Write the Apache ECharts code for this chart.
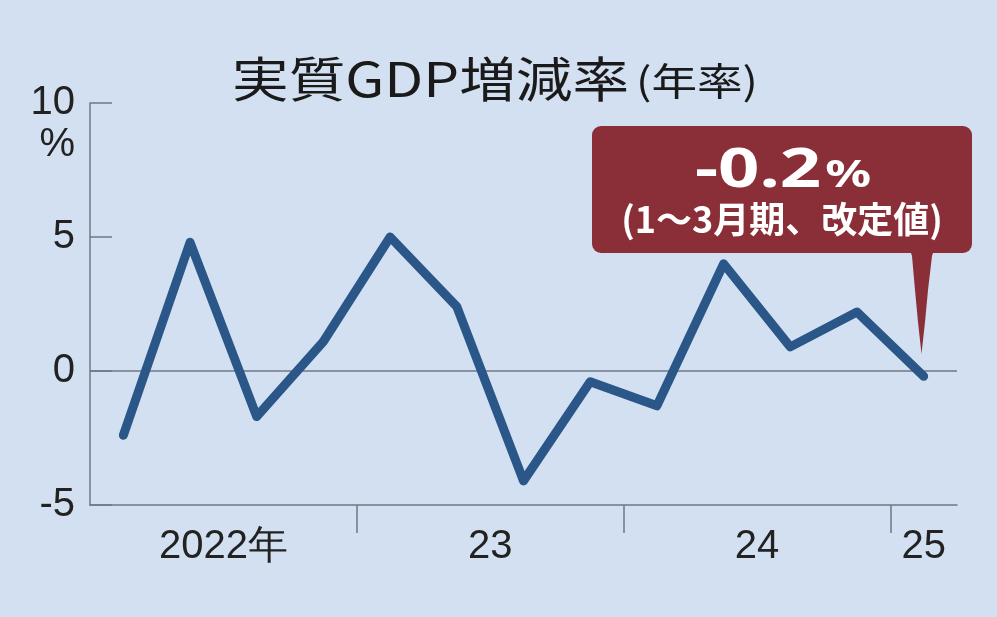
<!DOCTYPE html>
<html>
<head>
<meta charset="utf-8">
<script src="https://cdn.jsdelivr.net/npm/echarts@6/dist/echarts.min.js"></script>
<style>
html,body{margin:0;padding:0;background:#d3e0f1;}
#chart{width:997px;height:617px;}
</style>
</head>
<body>
<div id="chart"></div>
<script>
// ---- data ----
const categories = ['2022Q1','2022Q2','2022Q3','2022Q4','2023Q1','2023Q2','2023Q3','2023Q4','2024Q1','2024Q2','2024Q3','2024Q4','2025Q1'];
const gdpGrowth = [-2.4, 4.8, -1.7, 1.1, 5.0, 2.4, -4.1, -0.4, -1.3, 4.0, 0.9, 2.2, -0.2];
const yearLabels = {'2022':'2022年','2023':'23','2024':'24','2025':'25'};
const yTicks = [-5, 0, 5, 10];
const titleText = '実質GDP増減率';
const titleNote = '(年率)';
const calloutValue = '-0.2';
const calloutNote = '(1〜3月期、改定値)';

// derive year label centres and year boundaries from the categories
const years = [];
categories.forEach((c, i) => {
  const y = c.slice(0, 4);
  let g = years.find(o => o.year === y);
  if (!g) { g = {year: y, first: i, last: i}; years.push(g); }
  g.last = i;
});
const labelPos = years.map(g => (g.first + g.last + 1) / 2);
const boundaryPos = years.slice(1).map(g => g.first);
const posToLabel = {};
years.forEach((g, i) => { posToLabel[labelPos[i]] = yearLabels[g.year]; });

const axisGray = '#6f7885';
const numFont = '"Liberation Sans Narrow","Liberation Sans",sans-serif';
const jpFont = '"Noto Sans CJK JP","Noto Sans",sans-serif';
const calloutRed = '#8a2e37';

const chart = echarts.init(document.getElementById('chart'), null, {renderer: 'canvas'});
chart.setOption({
  backgroundColor: '#d3e0f1',
  animation: false,
  grid: {left: 90, right: 40, top: 103, bottom: 112, containLabel: false},
  xAxis: [
    {type: 'category', data: categories, boundaryGap: true, show: false},
    {
      type: 'value', min: 0, max: categories.length, position: 'bottom',
      axisLine: {show: true, lineStyle: {color: axisGray, width: 1.5}},
      axisTick: {show: true, customValues: boundaryPos, length: 28, lineStyle: {color: axisGray, width: 1.5}},
      axisLabel: {
        show: true, customValues: labelPos, margin: 22,
        formatter: v => posToLabel[v] || '',
        fontFamily: numFont, fontSize: 40, color: '#222'
      },
      splitLine: {show: false}
    }
  ],
  yAxis: {
    type: 'value', min: -5, max: 10, interval: 5,
    axisLine: {show: true, lineStyle: {color: axisGray, width: 1.5}},
    axisTick: {show: true, inside: true, length: 22, lineStyle: {color: axisGray, width: 1.5}},
    axisLabel: {
      margin: 15, fontFamily: numFont, fontSize: 40, color: '#222',
      formatter: v => yTicks.includes(v) ? String(v) : ''
    },
    splitLine: {show: true, lineStyle: {color: ['rgba(0,0,0,0)', axisGray, 'rgba(0,0,0,0)', 'rgba(0,0,0,0)'], width: 1.5}}
  },
  series: [{
    type: 'line',
    xAxisIndex: 0,
    data: gdpGrowth,
    symbol: 'none',
    lineStyle: {color: '#2b5688', width: 9, cap: 'round', join: 'round'},
    z: 3
  }],
  graphic: [
    {
      type: 'text', x: 232, y: 79, scaleX: 1.18,
      style: {text: titleText, fontFamily: jpFont, fontWeight: 'normal', fontSize: 48, fill: '#1a1a1a', textAlign: 'left', textVerticalAlign: 'middle'}
    },
    {
      type: 'text', x: 636, y: 81, scaleX: 1.2,
      style: {text: titleNote, fontFamily: jpFont, fontWeight: 'normal', fontSize: 38, fill: '#1a1a1a', textAlign: 'left', textVerticalAlign: 'middle'}
    },
    {
      type: 'text', x: 75, y: 145,
      style: {text: '%', fontFamily: numFont, fontSize: 40, fill: '#222', textAlign: 'right', textVerticalAlign: 'middle'}
    },
    {
      type: 'polygon',
      shape: {points: [[910,250],[912,256],[915,290],[918,322],[921.5,354],[925,322],[928,290],[932,256],[934,250]]},
      style: {fill: calloutRed}
    },
    {
      type: 'rect',
      shape: {x: 592, y: 126, width: 380, height: 127, r: 9},
      style: {fill: calloutRed}
    },
    {
      type: 'text', x: 783, y: 172, scaleX: 1.34,
      style: {
        text: '{a|' + calloutValue + '}{b|%}',
        textAlign: 'center', textVerticalAlign: 'middle',
        rich: {
          a: {fontFamily: '"Noto Sans",Roboto,sans-serif', fontWeight: 'bold', fontSize: 54, fill: '#ffffff', verticalAlign: 'bottom'},
          b: {fontFamily: '"Noto Sans",Roboto,sans-serif', fontWeight: 'bold', fontSize: 38, fill: '#ffffff', verticalAlign: 'bottom', padding: [0,0,4,3]}
        }
      }
    },
    {
      type: 'text', x: 782, y: 219,
      style: {text: calloutNote, fontFamily: jpFont, fontWeight: 'bold', fontSize: 36, fill: '#fff', textAlign: 'center', textVerticalAlign: 'middle'}
    }
  ]
});
</script>
</body>
</html>
